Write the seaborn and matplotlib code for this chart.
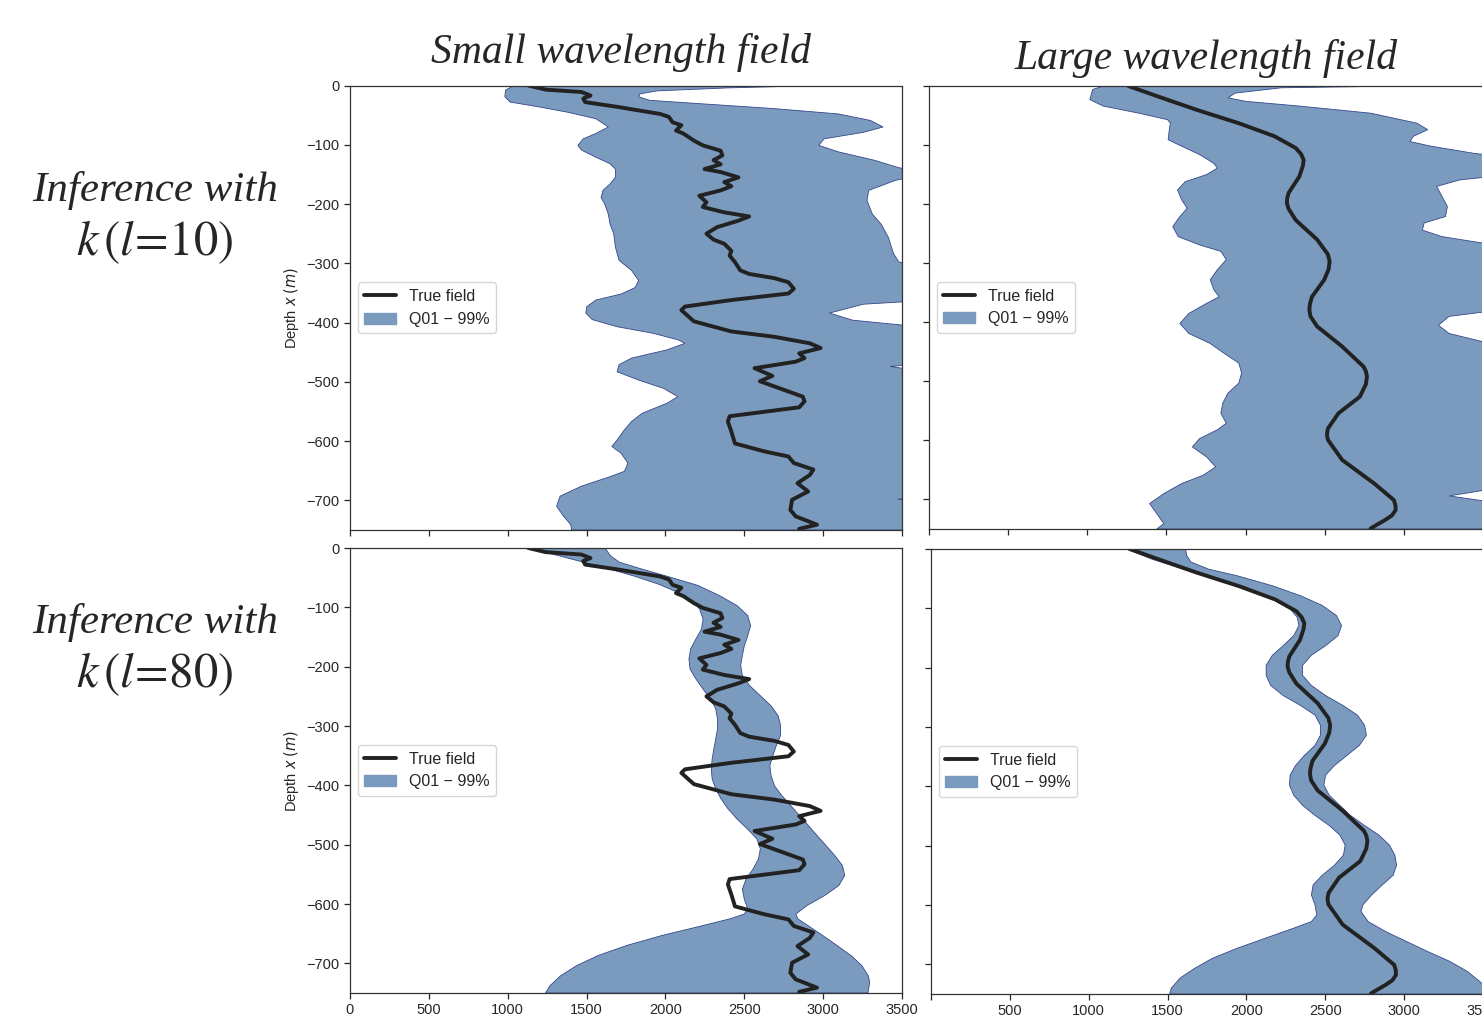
import numpy as np
import seaborn as sns
import matplotlib.pyplot as plt
from matplotlib.patches import Patch

sns.set_theme(style="ticks")
plt.rcParams['font.family'] = ['Liberation Sans', 'DejaVu Sans']

# true fields (depth in m, value)
small_d = [0, -7, -11, -17, -22, -28, -36, -48, -53, -62, -67, -76, -81, -93, -101, -110, -118, -126,
           -133, -141, -146, -155, -163, -170, -177, -186, -197, -205, -214, -221, -228, -239, -250,
           -260, -267, -279, -287, -298, -312, -318, -325, -332, -343, -351, -362, -373, -379, -390,
           -398, -415, -424, -435, -443, -452, -460, -466, -477, -490, -499, -525, -533, -543, -558,
           -567, -584, -604, -617, -626, -637, -648, -657, -671, -685, -699, -716, -727, -741, -748]
small_v = [1130, 1242, 1468, 1525, 1479, 1491, 1694, 1966, 2022, 2045, 2101, 2067, 2113, 2181, 2237,
           2350, 2361, 2305, 2350, 2248, 2350, 2463, 2373, 2418, 2350, 2215, 2260, 2237, 2373, 2531,
           2463, 2328, 2260, 2305, 2373, 2418, 2407, 2441, 2475, 2531, 2690, 2780, 2814, 2780, 2418,
           2124, 2101, 2147, 2181, 2418, 2690, 2916, 2984, 2848, 2882, 2826, 2565, 2678, 2599, 2871,
           2882, 2848, 2407, 2396, 2418, 2441, 2622, 2780, 2814, 2938, 2916, 2837, 2905, 2803, 2792,
           2826, 2961, 2848]

large_d = [0, -17, -40, -63, -85, -105, -115, -125, -135, -153, -181, -190, -198, -208, -227, -260,
           -285, -297, -310, -328, -357, -370, -379, -390, -407, -441, -475, -483, -492, -505, -526,
           -554, -580, -590, -599, -633, -673, -701, -710, -718, -727, -735, -749]
large_v = [1259, 1439, 1687, 1957, 2182, 2317, 2350, 2367, 2362, 2340, 2272, 2263, 2261, 2272, 2317,
           2452, 2520, 2531, 2525, 2497, 2419, 2406, 2403, 2410, 2452, 2610, 2745, 2760, 2767, 2760,
           2722, 2587, 2520, 2514, 2520, 2610, 2813, 2937, 2947, 2948, 2925, 2880, 2790]

# Q01 / Q99 bounds, l = 10, small field
tl_lo_d = [0, -8, -19, -28, -36, -45, -56, -70, -81, -90, -101, -109, -121, -132, -141, -155, -166,
           -177, -189, -200, -217, -234, -250, -273, -295, -312, -329, -341, -352, -362, -373, -384,
           -395, -407, -418, -429, -435, -446, -460, -471, -483, -497, -511, -525, -536, -553, -567,
           -581, -598, -609, -620, -637, -651, -660, -676, -693, -710, -727, -741, -750]
tl_lo_v = [1038, 986, 982, 1016, 1197, 1378, 1559, 1638, 1559, 1479, 1445, 1468, 1559, 1649, 1683,
           1683, 1649, 1604, 1592, 1615, 1638, 1649, 1672, 1683, 1706, 1785, 1830, 1808, 1717, 1559,
           1502, 1495, 1536, 1694, 1920, 2079, 2124, 2011, 1785, 1706, 1694, 1830, 1988, 2079, 2011,
           1853, 1785, 1740, 1694, 1660, 1717, 1762, 1740, 1649, 1468, 1332, 1310, 1355, 1400, 1405]
tl_hi_d = [0, -4, -9, -14, -19, -25, -31, -39, -48, -59, -70, -79, -90, -101, -112, -126, -138, -149,
           -160, -177, -194, -217, -234, -256, -284, -298, -307, -362, -369, -384, -396, -404, -412,
           -468, -474, -485, -692, -698, -704, -750]
tl_hi_v = [2984, 2400, 1950, 1840, 1830, 1900, 2237, 2690, 3097, 3300, 3380, 3255, 3006, 2972, 3097,
           3323, 3470, 3650, 3459, 3289, 3278, 3312, 3368, 3413, 3447, 3481, 3700, 3700, 3255, 3040,
           3187, 3492, 3700, 3700, 3425, 3700, 3700, 3470, 3700, 3700]

# l = 10, large field
tr_lo_d = [0, -6, -23, -34, -46, -57, -63, -74, -91, -102, -116, -131, -139, -150, -162, -176, -193,
           -207, -221, -238, -255, -269, -280, -294, -311, -328, -345, -357, -368, -385, -402, -419,
           -436, -453, -469, -486, -503, -520, -537, -554, -571, -582, -597, -611, -628, -645, -659,
           -673, -690, -707, -724, -741, -750]
tr_lo_v = [1101, 1034, 1016, 1101, 1326, 1507, 1525, 1518, 1511, 1597, 1709, 1800, 1822, 1754, 1619,
           1570, 1597, 1631, 1585, 1540, 1574, 1709, 1844, 1878, 1822, 1777, 1800, 1833, 1754, 1642,
           1585, 1642, 1777, 1867, 1957, 1975, 1957, 1889, 1856, 1844, 1878, 1822, 1709, 1664, 1754,
           1811, 1732, 1597, 1484, 1394, 1439, 1484, 1439]
tr_hi_d = [0, -3, -12, -20, -26, -34, -46, -63, -74, -85, -94, -102, -114, -119, -152, -159, -170,
           -187, -204, -221, -232, -244, -255, -266, -272, -376, -390, -405, -419, -433, -440, -676,
           -694, -710, -750]
tr_hi_v = [2993, 2227, 1934, 1889, 2002, 2340, 2790, 3083, 3151, 3061, 3038, 3173, 3443, 3600, 3600,
           3353, 3207, 3241, 3275, 3263, 3128, 3117, 3241, 3500, 3700, 3700, 3286, 3218, 3286, 3500,
           3700, 3700, 3286, 3700, 3700]

# l = 80, small field
bl_lo_d = [0, -13, -24, -35, -47, -61, -75, -89, -103, -120, -137, -153, -170, -187, -204, -221, -238,
           -254, -271, -288, -305, -322, -339, -356, -372, -389, -406, -423, -440, -457, -474, -490,
           -507, -524, -541, -558, -575, -592, -608, -617, -625, -637, -653, -670, -687, -704, -721,
           -738, -750]
bl_lo_v = [1131, 1323, 1482, 1640, 1798, 1957, 2081, 2172, 2217, 2239, 2228, 2194, 2160, 2149, 2156,
           2194, 2239, 2285, 2319, 2330, 2330, 2319, 2307, 2296, 2291, 2296, 2319, 2353, 2398, 2455,
           2522, 2579, 2602, 2590, 2556, 2511, 2488, 2500, 2522, 2500, 2409, 2228, 1979, 1753, 1572,
           1436, 1335, 1267, 1240]
bl_hi_d = [0, -13, -24, -35, -47, -63, -80, -97, -114, -131, -148, -165, -181, -198, -215, -232, -249,
           -266, -283, -299, -316, -333, -350, -367, -384, -401, -417, -434, -451, -468, -485, -502,
           -519, -535, -552, -569, -586, -603, -617, -625, -637, -653, -670, -687, -704, -721, -732,
           -750]
bl_hi_v = [1617, 1651, 1708, 1844, 2002, 2205, 2341, 2454, 2522, 2540, 2522, 2500, 2488, 2477, 2488,
           2534, 2602, 2670, 2715, 2730, 2730, 2703, 2681, 2662, 2670, 2692, 2737, 2794, 2850, 2907,
           2963, 3020, 3076, 3122, 3137, 3099, 3008, 2895, 2827, 2839, 2907, 2997, 3088, 3178, 3246,
           3286, 3295, 3284]

# l = 80, large field
br_lo_d = [0, -17, -34, -50, -67, -84, -101, -115, -129, -146, -163, -179, -196, -213, -230, -247,
           -264, -280, -297, -314, -331, -348, -365, -381, -398, -415, -432, -449, -466, -482, -499,
           -516, -533, -550, -566, -583, -600, -617, -628, -639, -656, -673, -690, -707, -723, -740,
           -750]
br_lo_v = [1243, 1400, 1603, 1805, 2007, 2176, 2277, 2322, 2333, 2300, 2233, 2165, 2125, 2125, 2154,
           2233, 2345, 2435, 2469, 2469, 2435, 2367, 2311, 2277, 2273, 2300, 2356, 2435, 2525, 2592,
           2626, 2615, 2558, 2480, 2423, 2412, 2435, 2446, 2412, 2300, 2120, 1940, 1783, 1670, 1580,
           1524, 1513]
br_hi_d = [0, -11, -22, -34, -45, -62, -79, -95, -112, -129, -146, -163, -179, -196, -213, -230, -247,
           -264, -280, -297, -314, -331, -348, -365, -381, -398, -415, -432, -449, -466, -482, -499,
           -516, -533, -550, -566, -583, -600, -611, -628, -645, -662, -679, -695, -712, -729, -750]
br_hi_v = [1614, 1621, 1648, 1760, 1940, 2165, 2345, 2480, 2570, 2603, 2581, 2502, 2412, 2356, 2356,
           2412, 2502, 2614, 2704, 2749, 2761, 2716, 2637, 2558, 2502, 2491, 2525, 2592, 2659, 2749,
           2839, 2907, 2941, 2952, 2930, 2862, 2794, 2738, 2727, 2772, 2884, 3019, 3154, 3289, 3401,
           3480, 3559]

col_titles = ["Small wavelength field", "Large wavelength field"]
row_labels = [r"$k\,(l\!=\!10)$", r"$k\,(l\!=\!80)$"]
x_ticks = [0, 500, 1000, 1500, 2000, 2500, 3000, 3500]
y_ticks = [0, -100, -200, -300, -400, -500, -600, -700]

band_col = '#7b9bbe'
edge_col = '#34478a'
W, H = 1482, 1024

fig = plt.figure(figsize=(W / 100, H / 100), dpi=100)

# pixel boxes (left, top, right, bottom)
boxes = [(350, 85.5, 902, 530), (929, 86, 1483, 529),
         (350, 548, 902, 993), (931, 549, 1483, 994)]
bands = [(tl_lo_d, tl_lo_v, tl_hi_d, tl_hi_v, small_d, small_v),
         (tr_lo_d, tr_lo_v, tr_hi_d, tr_hi_v, large_d, large_v),
         (bl_lo_d, bl_lo_v, bl_hi_d, bl_hi_v, small_d, small_v),
         (br_lo_d, br_lo_v, br_hi_d, br_hi_v, large_d, large_v)]

for i, (box, band) in enumerate(zip(boxes, bands)):
    l, t, r, b = box
    ax = fig.add_axes([l / W, 1 - b / H, (r - l) / W, (b - t) / H])
    lo_d, lo_v, hi_d, hi_v, tr_d, tr_v = band
    xs = np.concatenate([lo_v, hi_v[::-1]])
    ys = np.concatenate([lo_d, hi_d[::-1]])
    ax.fill(xs, ys, facecolor=band_col, edgecolor=edge_col, lw=0.6)
    sns.lineplot(x=tr_v, y=tr_d, sort=False, estimator=None, color='#222222', lw=2.8, ax=ax)
    ax.set_xlim(0, 3500)
    ax.set_ylim(-750, 0)
    ax.set_xticks(x_ticks)
    ax.set_yticks(y_ticks)
    ax.tick_params(labelsize=10.5, length=4, width=0.9, colors='.15')
    for s in ax.spines.values():
        s.set_color('.2')
        s.set_linewidth(0.9)
    row, col = divmod(i, 2)
    if col == 0:
        ax.set_ylabel('Depth $x$ $(m)$', fontsize=10.5, labelpad=4)
    else:
        ax.set_yticklabels([])
        ax.set_ylabel('')
    if row == 0:
        ax.set_xticklabels([])
    elif col == 1:
        ax.set_xticklabels([''] + [str(v) for v in x_ticks[1:]])
    ax.set_xlabel('')
    handles = [ax.lines[-1], Patch(facecolor=band_col, edgecolor=band_col)]
    ax.legend(handles, ['True field', 'Q01 \u2212 99%'], loc='center left', fontsize=11.5,
              handlelength=2.0, borderaxespad=0.5)

serif = ['Liberation Serif', 'DejaVu Serif']
fig.text(621 / W, 1 - 53 / H, col_titles[0], ha='center', va='center', fontsize=30,
         style='italic', family=serif)
fig.text(1206 / W, 1 - 58 / H, col_titles[1], ha='center', va='center', fontsize=30,
         style='italic', family=serif)
for k, yc in enumerate([190, 622]):
    fig.text(155 / W, 1 - yc / H, "Inference with", ha='center', va='center', fontsize=31,
             style='italic', family=serif)
    fig.text(155 / W, 1 - (yc + 52) / H, row_labels[k], ha='center', va='center', fontsize=35,
             math_fontfamily='stix')

fig.savefig('out.png', dpi=100)
